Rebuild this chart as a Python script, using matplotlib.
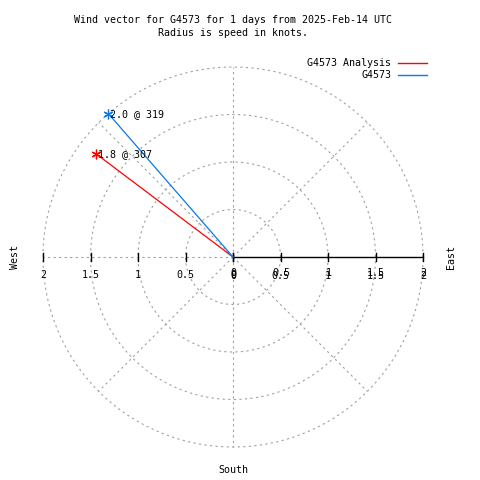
import matplotlib
matplotlib.use('Agg')
import matplotlib.pyplot as plt
import numpy as np

# wind data
names = ['G4573 Analysis', 'G4573']
speed = [1.8, 2.0]
direction = [307, 319]
colors = ['#ff0000', '#0a78e6']

rings = [0.5, 1.0, 1.5, 2.0]
tick_vals = [0, 0.5, 1, 1.5, 2]
tick_text = ['0', '0.5', '1', '1.5', '2']

plt.rcParams['font.family'] = ['DejaVu Sans Mono']
fs = 7.2

fig = plt.figure(figsize=(4.8, 4.8), dpi=100)
ax = fig.add_axes([0, 0, 1, 1])
s = 95.0  # pixels per knot
cx, cy = 233.0, 257.0
ax.set_xlim(-cx / s, (480 - cx) / s)
ax.set_ylim((cy - 480) / s, cy / s)
ax.axis('off')

grid = dict(color='#a0a0a0', lw=0.8, ls=(0, (2, 3)))
t = np.linspace(0, 2 * np.pi, 400)
for r in rings:
    ax.plot(r * np.cos(t), r * np.sin(t), **grid)
for a in range(0, 360, 45):
    if a == 0:
        continue
    ax.plot([0, 2 * np.cos(np.radians(a))], [0, 2 * np.sin(np.radians(a))], **grid)

# axis along east
ax.plot([0, 2], [0, 0], color='black', lw=1)
tk = 4 / s
for v in tick_vals:
    ax.plot([v, v], [-tk, tk], color='black', lw=1)
    ax.plot([-v, -v], [-tk, tk], color='black', lw=1)
for v, lab in zip(tick_vals, tick_text):
    ax.text(-v, -18 / s, lab, ha='center', va='center', fontsize=fs)
    ax.text(v + 0.5 / s, -16 / s, lab, ha='center', va='center', fontsize=fs)
    ax.text(v, -19 / s, lab, ha='center', va='center', fontsize=fs)

ax.text(-218 / s, 0, 'West', rotation=90, ha='center', va='center', fontsize=fs)
ax.text(218 / s, 0, 'East', rotation=90, ha='center', va='center', fontsize=fs)
ax.text(0, -213 / s, 'South', ha='center', va='center', fontsize=fs)

# vectors
for i in range(len(speed)):
    th = np.radians(direction[i])
    x = speed[i] * np.sin(th)
    y = speed[i] * np.cos(th)
    ax.plot([0, x], [0, y], color=colors[i], lw=0.9)
    ax.plot(x, y, marker=(6, 2, 0), ms=7, mew=0.9, color=colors[i])
    ax.text(x + 2 / s, y, '%.1f @ %d' % (speed[i], direction[i]),
            ha='left', va='center', fontsize=fs)

# legend
for i, n in enumerate(names):
    ly = (cy - 63 - 12 * i) / s
    ax.text((391 - cx) / s, ly, n, ha='right', va='center', fontsize=fs)
    ax.plot([(398 - cx) / s, (427 - cx) / s], [ly, ly], color=colors[i], lw=1)

fig.text(233 / 480, 1 - 20 / 480, 'Wind vector for G4573 for 1 days from 2025-Feb-14 UTC',
         ha='center', va='center', fontsize=fs)
fig.text(233 / 480, 1 - 33 / 480, 'Radius is speed in knots.',
         ha='center', va='center', fontsize=fs)

fig.savefig('out.png', dpi=100)
